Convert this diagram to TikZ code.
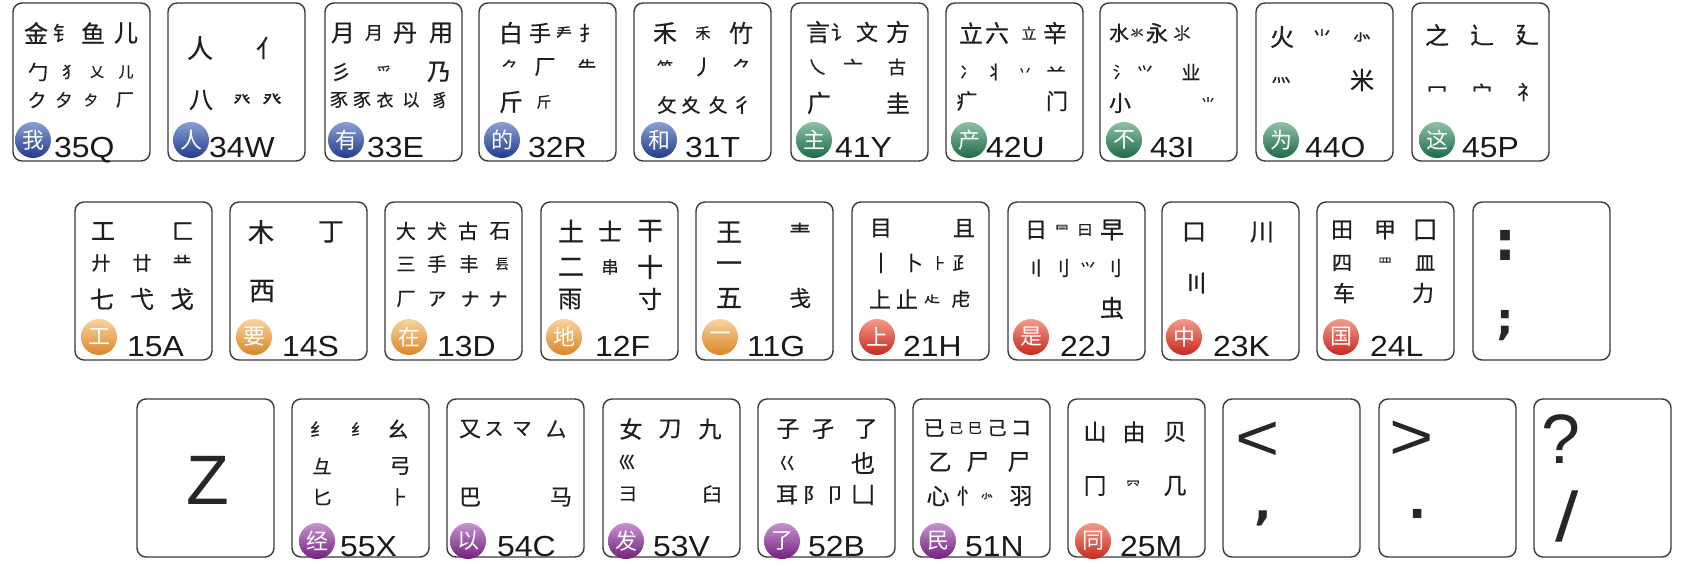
\documentclass[tikz,border=0pt]{standalone}
\usepackage{graphicx}
\usepackage{fontspec}
\newfontfamily\cjk[FakeBold=0.6]{Noto Sans CJK SC}
\newfontfamily\cjkb{Noto Sans CJK SC}
\newfontfamily\lsans{Liberation Sans}
\newfontfamily\dvs{DejaVu Sans}
\definecolor{blueL}{HTML}{8A9FD4}\definecolor{blueD}{HTML}{223C8C}
\definecolor{greenL}{HTML}{8EC2A6}\definecolor{greenD}{HTML}{1C6A46}
\definecolor{orangeL}{HTML}{F8D39E}\definecolor{orangeD}{HTML}{DC8628}
\definecolor{redL}{HTML}{F29C8C}\definecolor{redD}{HTML}{C8281D}
\definecolor{purpleL}{HTML}{C793CF}\definecolor{purpleD}{HTML}{72207E}
\definecolor{keyline}{HTML}{3A3A3A}
\newcounter{zc}
\tikzset{
  keyb/.style={draw=keyline, line width=1.4pt, rounded corners=9pt, fill=white,
    minimum width=137pt, minimum height=158pt, inner sep=0pt},
  zi/.style={inner sep=0pt, text=black!88},
  bdg/.style={circle, inner sep=0pt, minimum size=36pt, text=white,
    font=\cjkb\fontsize{22}{22}\selectfont},
  lab/.style={anchor=base west, inner sep=0pt, text=black!90,
    font=\lsans\fontsize{29}{29}\selectfont},
  punc/.style={inner sep=0pt, text=black!85, font=\dvs\bfseries\fontsize{#1}{#1}\selectfont},
  sym/.style={inner sep=0pt, text=black!85, font=\lsans\fontsize{#1}{#1}\selectfont}
}
\newcommand\zi[3]{\stepcounter{zc}\node[zi,font=\cjk\fontsize{#2}{#2}\selectfont] (z\arabic{zc}) at (#1) {#3};}
\newcommand\bd[7]{%
  \node[bdg, top color=#3L, bottom color=#3D] (bd) at (#1,#2) {#4};
  \node[lab] (lb) at (#5,#6) {\scalebox{1.1}[1]{#7}};}
\newcommand\wk[4]{%
  \begin{scope}[shift={(#2,#3)}, name prefix=#1-]
  \node[keyb] (box) at (68.5,79) {};
  #4
  \end{scope}}
\begin{document}
\begin{tikzpicture}[x=1pt,y=-1pt]
\useasboundingbox (0,0) rectangle (1686,566);
\fill[white] (0,0) rectangle (1686,566);
% ---------------- row 1
\wk{q}{13}{3}{%
\zi{23,30}{24}{金}\zi{50,30}{20}{钅}\zi{80,30}{24}{鱼}\zi{113,30}{24}{儿}
\zi{25,69}{20}{勹}\zi{57,69}{16}{犭}\zi{84,69}{14}{乂}\zi{113,69}{15}{儿}
\zi{24,97}{19}{ク}\zi{51,97}{17}{夕}\zi{78,97}{14}{夕}\zi{112,97}{18}{厂}
\bd{20}{137}{blue}{我}{41}{154}{35Q}}
\wk{w}{168}{3}{%
\zi{32,45}{26}{人}\zi{100,45}{24}{亻}
\zi{33,97}{24}{八}\zi{74,97}{17}{癶}\zi{104,97}{19}{癶}
\bd{23}{137}{blue}{人}{41}{154}{34W}}
\wk{e}{325}{3}{%
\zi{18,30}{24}{月}\zi{49,30}{18}{月}\zi{80,30}{24}{丹}\zi{116,30}{24}{用}
\zi{16,69}{20}{彡}\zi{59,69}{15}{爫}\zi{114,69}{24}{乃}
\zi{14,97}{18}{豕}\zi{37,97}{18}{豕}\zi{60,97}{17}{衣}\zi{86,97}{17}{以}\zi{115,97}{18}{豸}
\bd{21}{137}{blue}{有}{42}{154}{33E}}
\wk{r}{479}{3}{%
\zi{32,30}{24}{白}\zi{61,30}{22}{手}\zi{85,30}{16}{龵}\zi{110,30}{20}{扌}
\zi{31,64}{17}{⺈}\zi{66,64}{21}{厂}\zi{108,64}{19}{⺧}
\zi{32,99}{24}{斤}\zi{65,99}{15}{斤}
\bd{23}{137}{blue}{的}{49}{154}{32R}}
\wk{t}{634}{3}{%
\zi{31,30}{24}{禾}\zi{69,30}{15}{禾}\zi{107,30}{24}{竹}
\zi{31,64}{16}{⺮}\zi{69,64}{21}{丿}\zi{108,64}{19}{⺈}
\zi{33,102}{19}{攵}\zi{57,102}{19}{夊}\zi{84,102}{19}{夂}\zi{108,102}{20}{彳}
\bd{25}{137}{blue}{和}{51}{154}{31T}}
\wk{y}{791}{3}{%
\zi{27,29}{24}{言}\zi{50,29}{20}{讠}\zi{76,29}{22}{文}\zi{107,29}{24}{方}
\zi{26,64}{18}{乀}\zi{62,64}{20}{亠}\zi{106,64}{18}{古}
\zi{28,100}{24}{广}\zi{107,100}{24}{圭}
\bd{23}{137}{green}{主}{44}{154}{41Y}}
\wk{u}{946}{3}{%
\zi{25,30}{24}{立}\zi{51,30}{24}{六}\zi{83,30}{15}{立}\zi{109,30}{24}{辛}
\zi{22,69}{16}{冫}\zi{49,69}{18}{丬}\zi{79,69}{14}{丷}\zi{110,69}{19}{䒑}
\zi{21,98}{21}{疒}\zi{111,98}{22}{门}
\bd{23}{137}{green}{产}{40}{154}{42U}}
\wk{i}{1100}{3}{%
\zi{19,30}{20}{水}\zi{37,30}{13}{氺}\zi{57,30}{22}{永}\zi{82,30}{17}{⺢}
\zi{21,69}{16}{氵}\zi{45,69}{16}{⺍}\zi{91,69}{19}{业}
\zi{20,100}{22}{小}\zi{108,100}{14}{⺌}
\bd{24}{137}{green}{不}{50}{154}{43I}}
\wk{o}{1256}{3}{%
\zi{26,34}{24}{火}\zi{66,34}{19}{⺌}\zi{106,34}{19}{⺗}
\zi{25,77}{19}{灬}\zi{106,77}{24}{米}
\bd{25}{137}{green}{为}{49}{154}{44O}}
\wk{p}{1412}{3}{%
\zi{25,32}{24}{之}\zi{70,32}{24}{辶}\zi{115,32}{24}{廴}
\zi{25,89}{20}{冖}\zi{70,89}{20}{宀}\zi{115,89}{20}{礻}
\bd{25}{137}{green}{这}{50}{154}{45P}}
% ---------------- row 2
\wk{a}{75}{202}{%
\zi{28,29}{24}{工}\zi{108,29}{22}{匚}
\zi{26,61}{19}{廾}\zi{67,61}{19}{廿}\zi{107,61}{19}{龷}
\zi{27,97}{24}{七}\zi{67,97}{24}{弋}\zi{107,97}{24}{戈}
\bd{24}{135}{orange}{工}{52}{154}{15A}}
\wk{s}{230}{202}{%
\zi{31,30}{26}{木}\zi{101,30}{26}{丁}\zi{32,89}{26}{西}
\bd{24}{135}{orange}{要}{52}{154}{14S}}
\wk{d}{385}{202}{%
\zi{21,29}{20}{大}\zi{52,29}{20}{犬}\zi{83,29}{20}{古}\zi{115,29}{21}{石}
\zi{21,62}{19}{三}\zi{52,62}{19}{手}\zi{84,62}{19}{丰}\zi{117,62}{14}{镸}
\zi{21,97}{19}{厂}\zi{52,97}{19}{ア}\zi{85,97}{19}{ナ}\zi{113,97}{19}{ナ}
\bd{24}{135}{orange}{在}{52}{154}{13D}}
\wk{f}{541}{202}{%
\zi{30,29}{26}{土}\zi{69,29}{24}{士}\zi{109,29}{26}{干}
\zi{30,65}{26}{二}\zi{69,65}{17}{串}\zi{109,65}{26}{十}
\zi{29,97}{24}{雨}\zi{109,97}{24}{寸}
\bd{23}{135}{orange}{地}{54}{154}{12F}}
\wk{g}{696}{202}{%
\zi{33,30}{26}{王}\zi{104,30}{22}{龶}
\zi{33,65}{26}{一}
\zi{33,96}{26}{五}\zi{104,96}{22}{戋}
\bd{24}{135}{orange}{一}{51}{154}{11G}}
\wk{h}{852}{202}{%
\zi{29,26}{22}{目}\zi{112,26}{22}{且}
\zi{29,61}{22}{丨}\zi{61,61}{20}{卜}\zi{87,61}{15}{⺊}\zi{110,61}{19}{⺪}
\zi{28,97}{22}{上}\zi{55,97}{22}{止}\zi{80,97}{16}{龰}\zi{109,97}{19}{虍}
\bd{25}{135}{red}{上}{51}{154}{21H}}
\wk{j}{1008}{202}{%
\zi{28,28}{22}{日}\zi{54,28}{14}{⺜}\zi{77,28}{15}{曰}\zi{104,28}{24}{早}
\zi{28,66}{20}{〢}\zi{52,66}{20}{刂}\zi{80,66}{15}{⺍}\zi{104,66}{20}{刂}
\zi{104,106}{24}{虫}
\bd{23}{135}{red}{是}{52}{154}{22J}}
\wk{k}{1162}{202}{%
\zi{32,30}{24}{口}\zi{100,30}{24}{川}\zi{34,81}{24}{〣}
\bd{22}{135}{red}{中}{51}{154}{23K}}
\wk{l}{1317}{202}{%
\zi{25,28}{22}{田}\zi{68,28}{22}{甲}\zi{108,28}{24}{囗}
\zi{25,61}{20}{四}\zi{68,61}{14}{罒}\zi{108,61}{20}{皿}
\zi{27,91}{22}{车}\zi{106,91}{22}{力}
\bd{24}{135}{red}{国}{53}{154}{24L}}
\wk{sc}{1473}{202}{%
\node[punc=55] (colon) at (32,43) {:};
\node[punc=44] (semi) at (32,124) {;};}
% ---------------- row 3
\wk{zk}{137}{399}{%
\node[sym=70] (zz) at (71,81) {Z};}
\wk{x}{292}{399}{%
\zi{27,30}{18}{纟}\zi{67,30}{16}{纟}\zi{106,30}{21}{幺}
\zi{30,67}{19}{彑}\zi{108,67}{21}{弓}
\zi{30,98}{19}{匕}\zi{107,98}{19}{⺊}
\bd{25}{142}{purple}{经}{48}{157}{55X}}
\wk{c}{447}{399}{%
\zi{23,30}{22}{又}\zi{47,30}{19}{ス}\zi{75,30}{19}{マ}\zi{109,30}{21}{厶}
\zi{23,98}{22}{巴}\zi{114,98}{22}{马}
\bd{21}{142}{purple}{以}{50}{157}{54C}}
\wk{v}{603}{399}{%
\zi{28,30}{23}{女}\zi{67,30}{23}{刀}\zi{107,30}{23}{九}
\zi{24,63}{17}{巛}
\zi{25,95}{18}{彐}\zi{109,95}{19}{臼}
\bd{23}{142}{purple}{发}{50}{157}{53V}}
\wk{b}{758}{399}{%
\zi{30,30}{23}{子}\zi{65,30}{23}{孑}\zi{108,30}{23}{了}
\zi{29,64}{17}{巜}\zi{105,64}{24}{也}
\zi{29,96}{22}{耳}\zi{55,96}{20}{阝}\zi{77,96}{20}{卩}\zi{105,96}{24}{凵}
\bd{24}{142}{purple}{了}{50}{157}{52B}}
\wk{n}{913}{399}{%
\zi{21,29}{21}{已}\zi{43,29}{14}{己}\zi{62,29}{14}{巳}\zi{84,29}{19}{己}\zi{108,29}{21}{コ}
\zi{27,63}{23}{乙}\zi{65,63}{23}{尸}\zi{106,63}{23}{尸}
\zi{25,97}{23}{心}\zi{54,97}{21}{忄}\zi{74,97}{13}{⺗}\zi{108,97}{23}{羽}
\bd{25}{142}{purple}{民}{52}{157}{51N}}
\wk{m}{1068}{399}{%
\zi{27,33}{23}{山}\zi{66,33}{23}{由}\zi{107,33}{23}{贝}
\zi{27,87}{23}{冂}\zi{65,87}{14}{⺳}\zi{107,87}{23}{几}
\bd{25}{142}{red}{同}{52}{157}{25M}}
\wk{lt}{1223}{399}{%
\node[sym=66] (s1) at (35,42) {\scalebox{1.15}[1]{<}};
\node[punc=46] (s2) at (40,119) {,};}
\wk{gt}{1379}{399}{%
\node[sym=66] (s1) at (33,41) {\scalebox{1.15}[1]{>}};
\node[punc=48] (s2) at (39,115) {.};}
\wk{qm}{1534}{399}{%
\node[sym=70] (s1) at (27,40) {?};
\node[sym=70] (s2) at (33,117) {\scalebox{1.2}[1]{/}};}
\end{tikzpicture}
\end{document}
